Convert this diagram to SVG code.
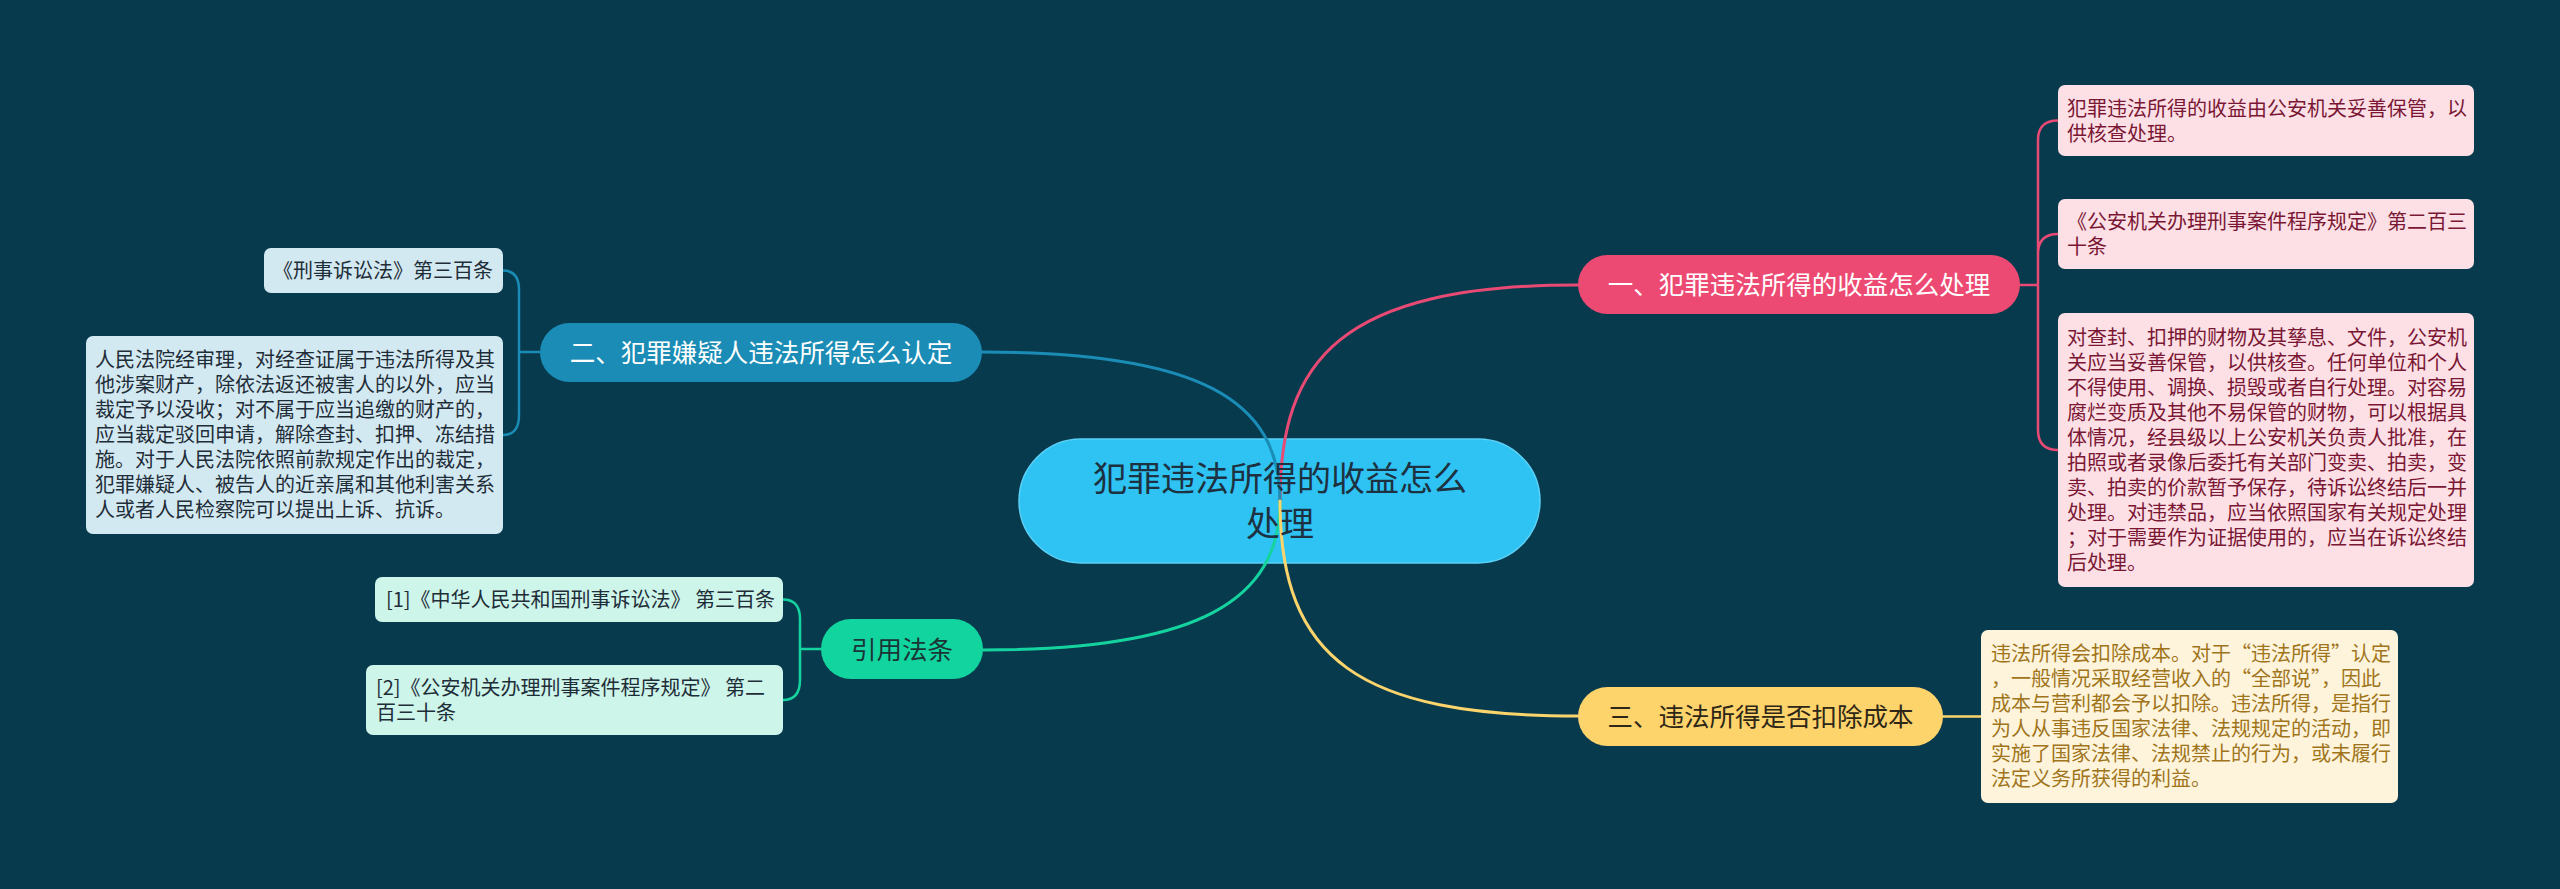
<svg xmlns="http://www.w3.org/2000/svg" width="2560" height="889" viewBox="0 0 2560 889">
<style>
text{font-family:"Noto Sans CJK SC","Noto Sans",sans-serif}
.c{fill:none;stroke-width:3;stroke-linecap:round}
.s{fill:none;stroke-width:2.5;stroke-linecap:round}
.pk{stroke:#e84a74}.bl{stroke:#1a8cb5}.gr{stroke:#15d39e}.yl{stroke:#fbd46c}
.t20{font-size:20px}
.tm{font-size:25.5px;text-anchor:middle}
</style>
<rect width="2560" height="889" fill="#083a4e"/>

<g id="center">
<rect x="1019" y="439" width="521" height="124" rx="62" fill="#2ec3f3" stroke="#5ad1f6" stroke-width="1.5"/>
</g>

<g id="connectors">
<path class="c pk" d="M1280,501 C1280,360 1340,285 1578,285"/>
<path class="c bl" d="M1280,501 C1280,400 1200,352 982,352"/>
<path class="c gr" d="M1280,501 C1280,600 1200,650 983,650"/>
<path class="c yl" d="M1280,501 C1280,660 1360,716 1578,716"/>
<path class="s pk" d="M2020,285 L2038,285 M2038,285 L2038,140 Q2038,120.5 2058,120.5 M2038,285 L2038,254 Q2038,234 2058,234 M2038,285 L2038,430 Q2038,450 2058,450"/>
<path class="s bl" d="M540,352 L519,352 M519,352 L519,290 Q519,270.5 503,270.5 M519,352 L519,415 Q519,435 503,435"/>
<path class="s gr" d="M821,649 L800,649 M800,649 L800,619 Q800,599.5 783,599.5 M800,649 L800,680 Q800,700 783,700"/>
<path class="s yl" d="M1943,716.5 L1981,716.5"/>
</g>

<g id="center-text">
<text x="1280" y="491" font-size="34" text-anchor="middle" fill="#1d3140">犯罪违法所得的收益怎么</text>
<text x="1280" y="536" font-size="34" text-anchor="middle" fill="#1d3140">处理</text>
</g>

<g id="n1">
<rect x="1578" y="255" width="442" height="59" rx="29.5" fill="#ed4a73"/>
<text class="tm" x="1799" y="294" fill="#ffffff">一、犯罪违法所得的收益怎么处理</text>
</g>

<g id="n1a">
<rect x="2058" y="85" width="416" height="71" rx="7" fill="#fde0e6"/>
<text class="t20" fill="#7a1734"><tspan x="2067" y="115.5">犯罪违法所得的收益由公安机关妥善保管，以</tspan><tspan x="2067" y="140.5">供核查处理。</tspan></text>
</g>

<g id="n1b">
<rect x="2058" y="199" width="416" height="70" rx="7" fill="#fde0e6"/>
<text class="t20" fill="#7a1734"><tspan x="2067" y="228.5">《公安机关办理刑事案件程序规定》第二百三</tspan><tspan x="2067" y="253.5">十条</tspan></text>
</g>

<g id="n1c">
<rect x="2058" y="313" width="416" height="274" rx="7" fill="#fde0e6"/>
<text class="t20" fill="#7a1734">
<tspan x="2067" y="344.5">对查封、扣押的财物及其孳息、文件，公安机</tspan>
<tspan x="2067" y="369.5">关应当妥善保管，以供核查。任何单位和个人</tspan>
<tspan x="2067" y="394.5">不得使用、调换、损毁或者自行处理。对容易</tspan>
<tspan x="2067" y="419.5">腐烂变质及其他不易保管的财物，可以根据具</tspan>
<tspan x="2067" y="444.5">体情况，经县级以上公安机关负责人批准，在</tspan>
<tspan x="2067" y="469.5">拍照或者录像后委托有关部门变卖、拍卖，变</tspan>
<tspan x="2067" y="494.5">卖、拍卖的价款暂予保存，待诉讼终结后一并</tspan>
<tspan x="2067" y="519.5">处理。对违禁品，应当依照国家有关规定处理</tspan>
<tspan x="2067" y="544.5">；对于需要作为证据使用的，应当在诉讼终结</tspan>
<tspan x="2067" y="569.5">后处理。</tspan>
</text>
</g>

<g id="n2">
<rect x="540" y="323" width="442" height="59" rx="29.5" fill="#1a8cb5"/>
<text class="tm" x="761" y="362" fill="#ffffff">二、犯罪嫌疑人违法所得怎么认定</text>
</g>

<g id="n2a">
<rect x="264" y="248" width="239" height="45" rx="7" fill="#d3e9f2"/>
<text class="t20" x="493" y="277.5" text-anchor="end" fill="#1f2d38">《刑事诉讼法》第三百条</text>
</g>

<g id="n2b">
<rect x="86" y="336" width="417" height="198" rx="7" fill="#d3e9f2"/>
<text class="t20" fill="#1f2d38">
<tspan x="95" y="367">人民法院经审理，对经查证属于违法所得及其</tspan>
<tspan x="95" y="392">他涉案财产，除依法返还被害人的以外，应当</tspan>
<tspan x="95" y="417">裁定予以没收；对不属于应当追缴的财产的，</tspan>
<tspan x="95" y="442">应当裁定驳回申请，解除查封、扣押、冻结措</tspan>
<tspan x="95" y="467">施。对于人民法院依照前款规定作出的裁定，</tspan>
<tspan x="95" y="492">犯罪嫌疑人、被告人的近亲属和其他利害关系</tspan>
<tspan x="95" y="517">人或者人民检察院可以提出上诉、抗诉。</tspan>
</text>
</g>

<g id="n3">
<rect x="821" y="619" width="162" height="60" rx="30" fill="#12d49e"/>
<text class="tm" x="902" y="659" fill="#1b3536">引用法条</text>
</g>

<g id="n3a">
<rect x="375" y="577" width="408" height="45" rx="7" fill="#cdf5ea"/>
<text class="t20" x="386" y="606.5" fill="#1f2d38">[1]《中华人民共和国刑事诉讼法》 第三百条</text>
</g>

<g id="n3b">
<rect x="366" y="665" width="417" height="70" rx="7" fill="#cdf5ea"/>
<text class="t20" fill="#1f2d38"><tspan x="376" y="694.5">[2]《公安机关办理刑事案件程序规定》 第二</tspan><tspan x="376" y="719.5">百三十条</tspan></text>
</g>

<g id="n4">
<rect x="1578" y="687" width="365" height="59" rx="29.5" fill="#fdd36c"/>
<text class="tm" x="1760.5" y="726" fill="#2e2616">三、违法所得是否扣除成本</text>
</g>

<g id="n4a">
<rect x="1981" y="630" width="417" height="173" rx="7" fill="#fef4dc"/>
<text class="t20" fill="#a0741a">
<tspan x="1991" y="661">违法所得会扣除成本。对于“违法所得”认定</tspan>
<tspan x="1991" y="686">，一般情况采取经营收入的“全部说”，因此</tspan>
<tspan x="1991" y="711">成本与营利都会予以扣除。违法所得，是指行</tspan>
<tspan x="1991" y="736">为人从事违反国家法律、法规规定的活动，即</tspan>
<tspan x="1991" y="761">实施了国家法律、法规禁止的行为，或未履行</tspan>
<tspan x="1991" y="786">法定义务所获得的利益。</tspan>
</text>
</g>
</svg>
